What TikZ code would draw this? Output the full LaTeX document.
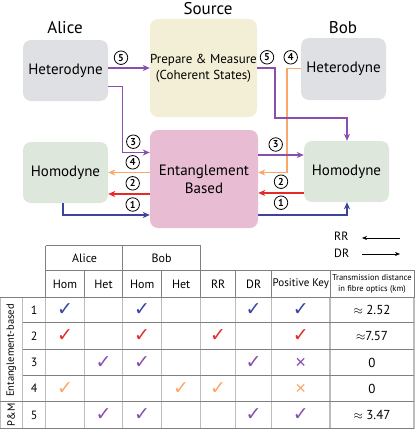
\documentclass[tikz,border=0pt]{standalone}
\usepackage{fontspec}
\setmainfont{PT Sans}
\newfontfamily\symf{DejaVu Sans}
\usetikzlibrary{arrows.meta,calc}
\definecolor{cpur}{HTML}{8A4FAE}
\definecolor{corg}{HTML}{F9A76C}
\definecolor{cred}{HTML}{E32B2B}
\definecolor{cblu}{HTML}{3C44A0}
\definecolor{cgray}{HTML}{DFE0E3}
\definecolor{cyel}{HTML}{F3EFD7}
\definecolor{cpink}{HTML}{E8BDD3}
\definecolor{cgreen}{HTML}{DDE7DC}
\definecolor{vline}{HTML}{BDBDBD}
\definecolor{hline}{HTML}{7F7F7F}
\tikzset{
  box/.style={rounded corners=8pt, align=center, inner sep=0pt, font=\fontsize{15}{18}\selectfont},
  who/.style={font=\fontsize{17}{20}\selectfont, inner sep=0pt},
  lab/.style={circle, draw, line width=0.8pt, fill=white, inner sep=0pt, minimum size=13.5pt, font=\bfseries\fontsize{10}{10}\selectfont},
  con/.style={line width=1.3pt, -{Stealth[length=7pt,width=6pt,inset=2pt]}},
  tx/.style={font=\fontsize{12}{14}\selectfont, inner sep=0pt},
  chk/.style={font=\symf\fontsize{19}{19}\selectfont, inner sep=0pt},
  crs/.style={font=\symf\fontsize{14}{14}\selectfont, inner sep=0pt},
  vl/.style={draw=vline, line width=1.4pt},
  hl/.style={draw=hline, line width=0.6pt},
}
\begin{document}
\begin{tikzpicture}[x=1pt,y=-1pt]
\useasboundingbox (0,0) rectangle (415,429);
% boxes
\node[box, fill=cgray, minimum width=85pt, minimum height=61pt] (ahet) at (65.5,70.5) {Heterodyne};
\node[box, fill=cyel, minimum width=107pt, minimum height=98pt, font=\fontsize{13}{16}\selectfont] (src) at (203.5,68) {Prepare \& Measure\\(Coherent States)};
\node[box, fill=cgray, minimum width=85pt, minimum height=62pt] (bhet) at (343.5,69) {Heterodyne};
\node[box, fill=cgreen, minimum width=85pt, minimum height=61pt] (ahom) at (65.5,172.5) {Homodyne};
\node[box, fill=cpink, minimum width=108pt, minimum height=98pt] (ent) at (204,179) {Entanglement\\Based};
\node[box, fill=cgreen, minimum width=85pt, minimum height=61pt] (bhom) at (346.5,171.5) {Homodyne};
\node[who] (alice) at (65,28) {Alice};
\node[who] (source) at (208,9) {Source};
\node[who] (bob) at (343,28) {Bob};
% connectors
\draw[con, cpur] (ahet.east |- 0,68) -- (src.west |- 0,68);
\draw[con, cpur] (ahet.east |- 0,86.5) -| (122.5,152.5) -- (ent.west |- 0,152.5);
\draw[con, corg] (bhet.west |- 0,68.5) -| (287,172.5) -- (ent.east |- 0,172.5);
\draw[con, corg] (ent.west |- 0,172.5) -- (ahom.east |- 0,172.5);
\draw[con, cred] (bhom.west |- 0,193) -- (ent.east |- 0,193);
\draw[con, cred] (ent.west |- 0,194) -- (ahom.east |- 0,194);
\draw[con, cblu] (ahom.south -| 63,0) |- (ent.west |- 0,215);
\draw[con, cblu] (ent.east |- 0,215) -| (bhom.south -| 347,0);
\draw[con, cpur] (ent.east |- 0,155) -- (bhom.west |- 0,155);
\draw[con, cpur] (src.east |- 0,68) -| (275,118) -| (bhom.north -| 347,0);
% circled labels
\node[lab] (l5a) at (121,57.7) {5};
\node[lab] (l3a) at (133.3,141.7) {3};
\node[lab] (l4a) at (132.7,162.3) {4};
\node[lab] (l2a) at (132.7,183.3) {2};
\node[lab] (l1a) at (132.7,204.5) {1};
\node[lab] (l5b) at (267,57.3) {5};
\node[lab] (l4b) at (290.7,57.3) {4};
\node[lab] (l3b) at (275.7,144.5) {3};
\node[lab] (l2b) at (281,181.7) {2};
\node[lab] (l1b) at (281,202.7) {1};
% legend
\node[tx, anchor=west] (rr) at (334,236) {RR};
\node[tx, anchor=west] (dr) at (334,253) {DR};
\coordinate (rra) at (400,238);
\coordinate (rrb) at (362,238);
\coordinate (dra) at (362,254);
\coordinate (drb) at (400,254);
\draw[line width=0.6pt, -{Stealth[length=5pt,width=4pt]}] (rra) -- (rrb);
\draw[line width=0.6pt, -{Stealth[length=5pt,width=4pt]}] (dra) -- (drb);
% table lines
\foreach \x in {0,22.7,45.7,84.3,122.7,161.7,200.7,235.7,271.7,330,414}
  \draw[vl] (\x,297.7) -- (\x,428.5);
\foreach \x in {84.3,161.7,235.7,271.7,330,414}
  \draw[hl] (\x,270) -- (\x,297.7);
\foreach \x in {45.7,122.7,200.7}
  \draw[hl] (\x,245.7) -- (\x,297.7);
\draw[hl] (45.7,245.7) -- (200.7,245.7);
\draw[hl] (45.7,270) -- (414,270);
\draw[hl] (0,297.7) -- (414,297.7);
\foreach \y in {322.7,349.3,375.7}
  \draw[hl] (22.7,\y) -- (414,\y);
\draw[hl] (0,401.7) -- (414,401.7);
\draw[hl] (0,428.3) -- (414,428.3);
% header text
\node[tx] (ha) at (84.5,258) {Alice};
\node[tx] (hb) at (161.7,258) {Bob};
\node[tx] (h1) at (65,284) {Hom};
\node[tx] (h2) at (103.5,284) {Het};
\node[tx] (h3) at (142.2,284) {Hom};
\node[tx] (h4) at (181.2,284) {Het};
\node[tx] (h5) at (218.2,284) {RR};
\node[tx] (h6) at (253.7,284) {DR};
\node[tx, font=\fontsize{11}{13}\selectfont] (h7) at (300.8,284) {Positive Key};
\node[tx, align=center, font=\fontsize{8.5}{10.5}\selectfont] (h8) at (372,284) {Transmission distance\\in fibre optics (km)};
\node[tx, rotate=90, font=\fontsize{10.5}{12}\selectfont] (g1) at (11.3,350.5) {Entanglement-based};
\node[tx, rotate=90, font=\fontsize{10.5}{12}\selectfont] (g2) at (11.3,415) {P\&M};
% row numbers
\foreach \n/\y in {1/310,2/336,3/362.5,4/388.7,5/415}
  \node[tx] (n\n) at (34.2,\y) {\n};
% checks
\foreach \x/\y/\c in {65/310/cblu,142.2/310/cblu,253.7/310/cblu,300.8/310/cblu,
  65/336/cred,142.2/336/cred,218.2/336/cred,300.8/336/cred,
  103.5/362.5/cpur,142.2/362.5/cpur,253.7/362.5/cpur,
  65/388.7/corg,181.2/388.7/corg,218.2/388.7/corg,
  103.5/415/cpur,142.2/415/cpur,253.7/415/cpur,300.8/415/cpur}
  \node[chk, text=\c] at (\x,\y) {✓};
\node[crs, text=cpur] (x3) at (300.8,362.5) {✕};
\node[crs, text=corg] (x4) at (300.8,388.7) {✕};
% distances
\node[tx, font=\fontsize{13}{15}\selectfont] (d1) at (372,310) {$\approx$ 2.52};
\node[tx, font=\fontsize{13}{15}\selectfont] (d2) at (372,336) {$\approx$7.57};
\node[tx, font=\fontsize{13}{15}\selectfont] (d3) at (372,362.5) {0};
\node[tx, font=\fontsize{13}{15}\selectfont] (d4) at (372,388.7) {0};
\node[tx, font=\fontsize{13}{15}\selectfont] (d5) at (372,415) {$\approx$ 3.47};
\end{tikzpicture}
\end{document}
